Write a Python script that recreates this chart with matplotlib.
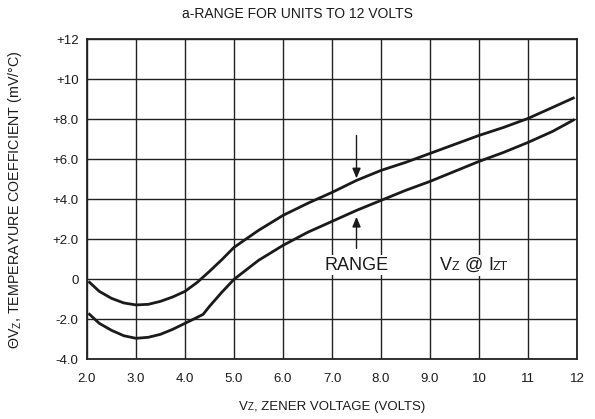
import matplotlib
matplotlib.use("Agg")
import matplotlib.pyplot as plt
from matplotlib.offsetbox import TextArea, HPacker, AnnotationBbox

plt.rcParams['font.family'] = ['Liberation Sans', 'DejaVu Sans']
plt.rcParams['mathtext.fontset'] = 'custom'
plt.rcParams['mathtext.rm'] = 'Liberation Sans'
plt.rcParams['mathtext.it'] = 'Liberation Sans'
plt.rcParams['mathtext.default'] = 'regular'

# ---- data ----
upper_x = [2.03, 2.25, 2.5, 2.75, 3.0, 3.25, 3.5, 3.75, 4.0, 4.25, 4.5, 4.75, 5.0,
           5.5, 6.0, 6.5, 7.0, 7.5, 8.0, 8.5, 9.0, 9.5, 10.0, 10.5, 11.0, 11.5, 11.95]
upper_y = [-0.1, -0.6, -0.95, -1.18, -1.28, -1.25, -1.1, -0.88, -0.6, -0.15, 0.4, 0.98, 1.6,
           2.45, 3.2, 3.8, 4.35, 4.95, 5.45, 5.85, 6.3, 6.75, 7.2, 7.6, 8.05, 8.6, 9.1]
lower_x = [2.03, 2.25, 2.5, 2.75, 3.0, 3.25, 3.5, 3.75, 4.0, 4.25, 4.37, 4.5, 4.75, 5.0,
           5.5, 6.0, 6.5, 7.0, 7.5, 8.0, 8.5, 9.0, 9.5, 10.0, 10.5, 11.0, 11.5, 11.95]
lower_y = [-1.7, -2.2, -2.55, -2.82, -2.95, -2.9, -2.75, -2.5, -2.2, -1.9, -1.75, -1.35, -0.65, 0.0,
           0.95, 1.7, 2.35, 2.9, 3.45, 3.95, 4.45, 4.9, 5.4, 5.9, 6.35, 6.85, 7.4, 8.0]

x_ticks = [2, 3, 4, 5, 6, 7, 8, 9, 10, 11, 12]
x_tick_labels = ['2.0', '3.0', '4.0', '5.0', '6.0', '7.0', '8.0', '9.0', '10', '11', '12']
y_ticks = [-4, -2, 0, 2, 4, 6, 8, 10, 12]
y_tick_labels = ['-4.0', '-2.0', '0', '+2.0', '+4.0', '+6.0', '+8.0', '+10', '+12']

arrow_x = 7.5
arrow_top = (7.2, 5.05)      # from, to
arrow_bottom = (1.55, 3.13)  # from, to

title = 'a-RANGE FOR UNITS TO 12 VOLTS'
xlabel_parts = [('V', 'big'), ('Z', 'small'), (', ZENER VOLTAGE (VOLTS)', 'big')]
vz_parts = [('V', 'big'), ('Z', 'small'), (' @ ', 'big'), ('I', 'big'), ('ZT', 'small')]
ylabel = r'ΘV$_{Z}$, TEMPERAYURE COEFFICIENT (mV/°C)'

# ---- figure ----
W, H = 595, 419
fig = plt.figure(figsize=(W / 100, H / 100), dpi=100)
left, right, top, bottom = 87, 577, 39.5, 359.3
ax = fig.add_axes([left / W, 1 - bottom / H, (right - left) / W, (bottom - top) / H])

ink = '#1a1a1a'
ax.plot(upper_x, upper_y, color=ink, lw=2.0, solid_capstyle='butt')
ax.plot(lower_x, lower_y, color=ink, lw=2.0, solid_capstyle='butt')

ax.set_xlim(2, 12)
ax.set_ylim(-4, 12)
ax.set_xticks(x_ticks)
ax.set_xticklabels(x_tick_labels)
ax.set_yticks(y_ticks)
ax.set_yticklabels(y_tick_labels)
ax.tick_params(axis='both', length=0, labelsize=9.5, colors=ink)
ax.tick_params(axis='x', pad=10)
ax.tick_params(axis='y', pad=6)
ax.grid(True, color='#222222', lw=1.0)
ax.set_axisbelow(True)
for s in ax.spines.values():
    s.set_linewidth(1.3)
    s.set_color('#222222')

arrowprops = dict(arrowstyle='-|>,head_length=0.6,head_width=0.25', color=ink, lw=1.0,
                  mutation_scale=10, shrinkA=0, shrinkB=0)
ax.annotate('', xy=(arrow_x, arrow_top[1]), xytext=(arrow_x, arrow_top[0]), arrowprops=arrowprops)
ax.annotate('', xy=(arrow_x, arrow_bottom[1]), xytext=(arrow_x, arrow_bottom[0]), arrowprops=arrowprops)

ax.text(7.5, 0.7, 'RANGE', ha='center', va='center', fontsize=13, color=ink,
        bbox=dict(facecolor='white', edgecolor='none', pad=1))


def caps_box(parts, big, small):
    kids = [TextArea(t, textprops=dict(fontsize=(big if k == 'big' else small), color=ink))
            for t, k in parts]
    return HPacker(children=kids, align='baseline', pad=0, sep=0)


ab = AnnotationBbox(caps_box(vz_parts, 13, 9), (9.9, 0.7), xycoords='data',
                    frameon=True, pad=0.15, box_alignment=(0.5, 0.5),
                    bboxprops=dict(facecolor='white', edgecolor='none'))
ax.add_artist(ab)

ab2 = AnnotationBbox(caps_box(xlabel_parts, 9.5, 7), ((left + right) / 2 / W, 1 - 407 / H),
                     xycoords='figure fraction', frameon=False, pad=0, box_alignment=(0.5, 0.5))
fig.add_artist(ab2)

fig.text(0.5, 1 - 14 / H, title, ha='center', va='center', fontsize=10, color=ink)
fig.text(15 / W, 1 - (top + bottom) / 2 / H, ylabel, ha='center', va='center', rotation=90,
         fontsize=10.3, color=ink)

fig.savefig('out.png', dpi=100)
